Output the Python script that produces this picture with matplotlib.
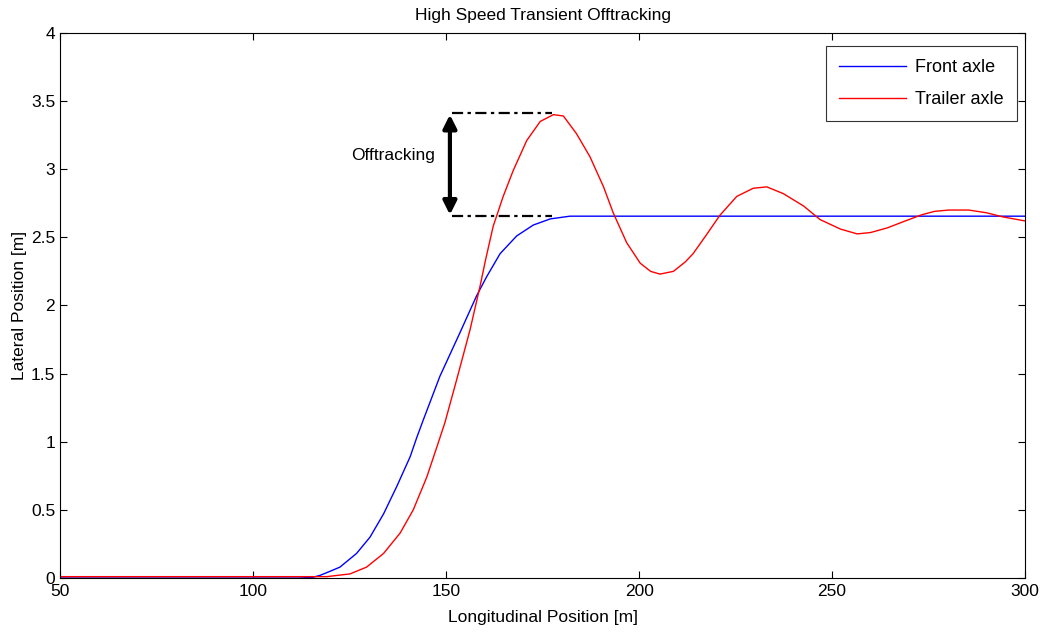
import matplotlib.pyplot as plt

plt.rcParams['font.family'] = ['Liberation Sans', 'DejaVu Sans']

# values
front_x = [50, 100, 112, 115.5, 117.4, 120, 122.5, 126.8, 130.3, 133.8, 137.2,
           140.7, 142.4, 144.1, 148.4, 153.6, 157.9, 160.5, 164, 168.3, 172.6,
           177, 182.1, 200, 250, 300]
front_y = [0.0, 0.0, 0.0, 0.005, 0.02, 0.05, 0.08, 0.18, 0.30, 0.47, 0.67,
           0.89, 1.03, 1.16, 1.48, 1.80, 2.07, 2.21, 2.38, 2.51, 2.59,
           2.635, 2.655, 2.655, 2.655, 2.655]

trailer_x = [50, 100, 116, 119.1, 122, 125.1, 129.4, 133.8, 138.1, 141.5, 145,
             147.6, 149.7, 152.7, 156.2, 158.8, 160.2, 162.2, 164.8, 167.4,
             170.9, 174.4, 177.8, 180.4, 183.8, 187.3, 190.8, 193.3, 196.8,
             200.3, 203, 205.4, 208.9, 212, 214, 217.5, 220.9, 225.3, 229.6,
             233.1, 237.4, 242.6, 246.9, 252.2, 256.5, 260, 264.4, 268.5,
             273.2, 276.5, 280.2, 285.4, 290, 294.2, 300]
trailer_y = [0.01, 0.01, 0.01, 0.01, 0.02, 0.03, 0.08, 0.18, 0.33, 0.50, 0.74,
             0.96, 1.14, 1.45, 1.82, 2.14, 2.33, 2.58, 2.80, 2.99,
             3.21, 3.35, 3.40, 3.39, 3.26, 3.09, 2.87, 2.68, 2.46,
             2.31, 2.25, 2.23, 2.25, 2.32, 2.38, 2.52, 2.66, 2.80, 2.86,
             2.87, 2.82, 2.73, 2.63, 2.56, 2.525, 2.535, 2.57, 2.615,
             2.665, 2.69, 2.70, 2.70, 2.68, 2.65, 2.62]

peak_y = 3.41
steady_y = 2.655
ref_x = [151.5, 177.5]

fig = plt.figure(figsize=(10.46, 6.32), dpi=100)
ax = fig.add_axes([0.0574, 0.0854, 0.9226, 0.8626])

ax.plot(front_x, front_y, color='#0000ff', lw=1.0, label='Front axle')
ax.plot(trailer_x, trailer_y, color='#ff0000', lw=1.0, label='Trailer axle')

# offtracking annotation
dashdot = (0, (5, 2, 1.5, 2))
ax.plot(ref_x, [peak_y, peak_y], color='black', lw=1.6, ls=dashdot)
ax.plot(ref_x, [steady_y, steady_y], color='black', lw=1.6, ls=dashdot)
ax.annotate('', xy=(151, peak_y - 0.01), xytext=(151, steady_y + 0.01),
            arrowprops=dict(arrowstyle='<|-|>', color='black', lw=3,
                            mutation_scale=20, shrinkA=0, shrinkB=0))
ax.text(136.3, 3.1, 'Offtracking', ha='center', va='center', fontsize=12.5)

ax.set_xlim(50, 300)
ax.set_ylim(0, 4)
ax.set_xticks([50, 100, 150, 200, 250, 300])
ax.set_yticks([0, 0.5, 1, 1.5, 2, 2.5, 3, 3.5, 4])
ax.set_yticklabels(['0', '0.5', '1', '1.5', '2', '2.5', '3', '3.5', '4'])
ax.tick_params(direction='in', top=True, right=True, length=5,
               labelsize=12.5)
ax.tick_params(axis='x', pad=4.5)
ax.tick_params(axis='y', pad=3.5)
for s in ax.spines.values():
    s.set_linewidth(0.8)

ax.set_title('High Speed Transient Offtracking', fontsize=12.5, pad=9)
ax.set_xlabel('Longitudinal Position [m]', fontsize=12.5, labelpad=8)
ax.set_ylabel('Lateral Position [m]', fontsize=12.5, labelpad=3)

leg = ax.legend(loc='upper right', fancybox=False, edgecolor='black',
                fontsize=13, handlelength=3.7, handletextpad=0.5,
                borderpad=0.75, labelspacing=0.8, borderaxespad=0,
                bbox_to_anchor=(0.9917, 0.976))
leg.get_frame().set_linewidth(0.8)

fig.savefig('out.png', dpi=100)
